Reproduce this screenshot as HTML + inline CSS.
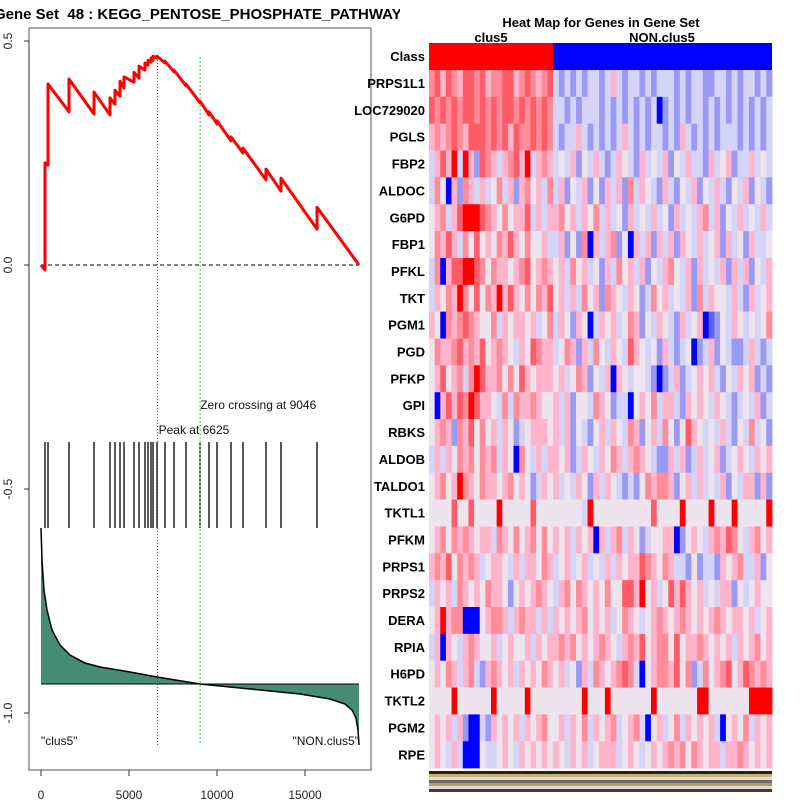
<!DOCTYPE html>
<html><head><meta charset="utf-8"><style>
body{margin:0;background:#fff}
svg{display:block;font-family:"Liberation Sans",sans-serif}
</style></head><body>
<svg id="c" width="800" height="800" viewBox="0 0 800 800">
<defs><clipPath id="tc"><rect x="0" y="0" width="400" height="30"/></clipPath></defs>
<text x="-6" y="19" font-size="15" font-weight="bold" xml:space="preserve" style="white-space:pre" clip-path="url(#tc)">Gene Set  48 : KEGG_PENTOSE_PHOSPHATE_PATHWAY</text>
<rect x="29" y="28" width="342" height="742" fill="none" stroke="#555"/>
<g id="left"></g>
<text x="601" y="27" font-size="13" font-weight="bold" text-anchor="middle">Heat Map for Genes in Gene Set</text>
<text x="491" y="42" font-size="13" font-weight="bold" text-anchor="middle">clus5</text>
<text x="662" y="42" font-size="13" font-weight="bold" text-anchor="middle">NON.clus5</text>
<g id="heat"></g>
</svg>
<script>
// ---- data ----
const hitRanks=[227,398,1591,3011,3920,4205,4489,4716,5284,5568,5909,6080,6250,6364,6591,7045,7557,8239,9034,9545,10000,10795,11477,12784,13636,15682];
const esBefore=[-0.011,0.223,0.342,0.337,0.335,0.359,0.377,0.395,0.408,0.417,0.435,0.446,0.453,0.457,0.462,0.451,0.431,0.400,0.362,0.335,0.315,0.277,0.250,0.190,0.165,0.080];
const esAfter=[0.228,0.404,0.415,0.386,0.373,0.390,0.410,0.420,0.430,0.444,0.451,0.457,0.462,0.466,0.466,0.455,0.435,0.404,0.366,0.342,0.322,0.286,0.261,0.214,0.194,0.129];
const totalRanks=18068;
const metricRanks=[0,57,170,341,625,1080,1648,2500,3352,5057,6591,9034,11875,14716,16420,17273,17670,17898,18011,18068];
const metricScores=[1.56,1.24,0.94,0.74,0.54,0.39,0.29,0.21,0.17,0.12,0.07,0,-0.05,-0.10,-0.15,-0.20,-0.26,-0.34,-0.46,-0.61];
const peakRank=6625, zeroCross=9046;
const yTicks=[0.5,0.0,-0.5,-1.0];
const yTickLabels=["0.5","0.0","-0.5","-1.0"];
const xTicks=[0,5000,10000,15000];
const genes=["PRPS1L1","LOC729020","PGLS","FBP2","ALDOC","G6PD","FBP1","PFKL","TKT","PGM1","PGD","PFKP","GPI","RBKS","ALDOB","TALDO1","TKTL1","PFKM","PRPS1","PRPS2","DERA","RPIA","H6PD","TKTL2","PGM2","RPE"];
const heatRows=[
"675765776756677567656732323233235323323233323233223323233232",
"767676776767677676767633232333232323232302323233232323232323",
"565676577767675766767632335323232353232332325323232333232323",
"357583852765356758356534352435323543253435243533253452335343",
"364052653534635256453635243524253526354325324352435324352432",
"456357888765464557353556453546353425343534253435635243534353",
"465753647454657546445335242605356240535253525435345253425334",
"360577887646554567456545364534253645352435643525343525352435",
"354658647465857546465745353645265435423645343526354435325345",
"540656765446354554534635425403545346524354325345012435434346",
"465567565745654354765534652536435437543425323402352432235323",
"457456368755646475455545346524350543443202352345453243545232",
"405757687554363655654453524436542330454635532545435432343523",
"456526574645354234555453524324535436524536424754343532436342",
"353546564656354064353554523543546535654322535235345234543545",
"456458654655456454235453435425354323246566524535343524355252",
"444474474444844444744444444384444444444744448444484448444448",
"456465654553654645646454535450535635423445502454356576435645",
"565746565345543535546534534534353545576546533242332545633524",
"354536545465542454565435646545464477584534757545343552434544",
"458566000456653565535354545645453465434565456545456545545345",
"350543565445345445354556564545654356574566474556545453545645",
"454653563256545354546545342536545676304566574623645674576565",
"444484444448444448444444444844484444444844444448844444448888",
"454535200325454535456445354635456345630453463545453045463545",
"454353000433454354545454354534555345434545656465455355654545"];
// ---- scales ----
const NS="http://www.w3.org/2000/svg";
const X0=41,X1=359;
const sx=r=>X0+(r/totalRanks)*(X1-X0);
const sy=v=>265-v*448;
const sm=s=>684-s*100;
function mk(tag,at,parent){const e=document.createElementNS(NS,tag);for(const k in at)e.setAttribute(k,at[k]);parent.appendChild(e);return e;}
const L=document.getElementById('left');
yTicks.forEach((v,i)=>{
 const t=mk('line',{x1:24,x2:29,y1:sy(v),y2:sy(v),stroke:'#333'},L);
 
 
 const lb=mk('text',{x:12,y:sy(v),'font-size':12,'text-anchor':'middle',transform:`rotate(-90 12 ${sy(v)})`,fill:'#222'},L);
 lb.textContent=yTickLabels[i];
 
 
});
mk('line',{x1:29,x2:29,y1:sy(0.5),y2:sy(-1.0),stroke:'#333'},L);
xTicks.forEach(v=>{
 const t=mk('line',{x1:sx(v),x2:sx(v),y1:770,y2:776,stroke:'#333'},L);
 
 
 const lb=mk('text',{x:sx(v),y:799,'font-size':12,'text-anchor':'middle',fill:'#222'},L);
 lb.textContent=String(v);
 
 
});
let d=`M${sx(metricRanks[0])},${sm(0)}`;
metricRanks.forEach((r,i)=>{d+=` L${sx(r)},${sm(metricScores[i])}`;});
d+=` L${sx(metricRanks[metricRanks.length-1])},${sm(0)} Z`;
const area=mk('path',{d:d,fill:'#468c74',stroke:'none'},L);


let dl='';metricRanks.forEach((r,i)=>{dl+=(i?' L':'M')+sx(r)+','+sm(metricScores[i]);});
const ml=mk('path',{d:dl,fill:'none',stroke:'#000','stroke-width':1.5},L);


const bl=mk('line',{x1:sx(0),x2:sx(totalRanks),y1:sm(0),y2:sm(0),stroke:'#000','stroke-width':1},L);


hitRanks.forEach(r=>{
 const t=mk('line',{x1:sx(r),x2:sx(r),y1:442,y2:528,stroke:'#000','stroke-width':1.3},L);
 
 
});
const zl=mk('line',{x1:sx(0),x2:sx(totalRanks),y1:sy(0),y2:sy(0),stroke:'#000','stroke-dasharray':'4,3'},L);


const pk=mk('line',{x1:sx(peakRank),x2:sx(peakRank),y1:57,y2:745,stroke:'#555','stroke-dasharray':'1,2'},L);


const zc=mk('line',{x1:sx(zeroCross),x2:sx(zeroCross),y1:57,y2:745,stroke:'#7fdc7f','stroke-width':1.5,'stroke-dasharray':'2,2'},L);


let de=`M${sx(0)},${sy(0)}`;
hitRanks.forEach((r,i)=>{de+=` L${sx(r)},${sy(esBefore[i])} L${sx(r)},${sy(esAfter[i])}`;});
de+=` L${sx(totalRanks)},${sy(0)}`;
const es=mk('path',{d:de,fill:'none',stroke:'#f00','stroke-width':3,'stroke-linejoin':'round'},L);


function txt(x,y,s,name,anchor){const t=mk('text',{x:x,y:y,'font-size':12,'text-anchor':anchor||'start',fill:'#111'},L);t.textContent=s;}
txt(sx(peakRank)+1,434,'Peak at '+peakRank,'peak-label');
txt(sx(zeroCross),409,'Zero crossing at '+zeroCross,'zero-crossing-label');
txt(41,745,'"clus5"','clus5-corner-label');
txt(359,745,'"NON.clus5"','non-clus5-corner-label','end');
const H=document.getElementById('heat');
const HX0=429,HX1=772,HY0=70,RH=26.85,split=553;
const cr=mk('rect',{x:HX0,y:43,width:split-HX0,height:27,fill:'#f00'},H);


const cb=mk('rect',{x:split,y:43,width:HX1-split,height:27,fill:'#00f'},H);


const cl=mk('text',{x:425,y:61,'font-size':13,'font-weight':'bold','text-anchor':'end'},H);cl.textContent='Class';


const pal=['#0000ff','#6060f8','#9a9af6','#d4d4f8','#eee4ee','#ffb4cc','#ff8c98','#ff5c68','#ff0000'];
genes.forEach((g,i)=>{
 const y=HY0+i*RH;
 const row=heatRows[i];
 const n=row.length;
 const nc=22;
 for(let j=0;j<n;j++){
  const x0=j<nc?HX0+j*(split-HX0)/nc:split+(j-nc)*(HX1-split)/(n-nc);
  const w=j<nc?(split-HX0)/nc:(HX1-split)/(n-nc);
  const c=mk('rect',{x:x0,y:y,width:w+0.4,height:RH+0.3,fill:pal[+row[j]]},H);
  
  
 }
 const t=mk('text',{x:425,y:y+18,'font-size':13,'font-weight':'bold','text-anchor':'end'},H);
 t.textContent=g;
 
 
});
const stripCols=['#222','#c9b27a','#e8dcc0','#6b6b6b','#b89a5a','#ddd','#4a3a2a'];
for(let k=0;k<7;k++){
 const s=mk('rect',{x:HX0,y:771+k*3,width:HX1-HX0,height:3,fill:stripCols[k]},H);
 
 
}
</script>
</body></html>
